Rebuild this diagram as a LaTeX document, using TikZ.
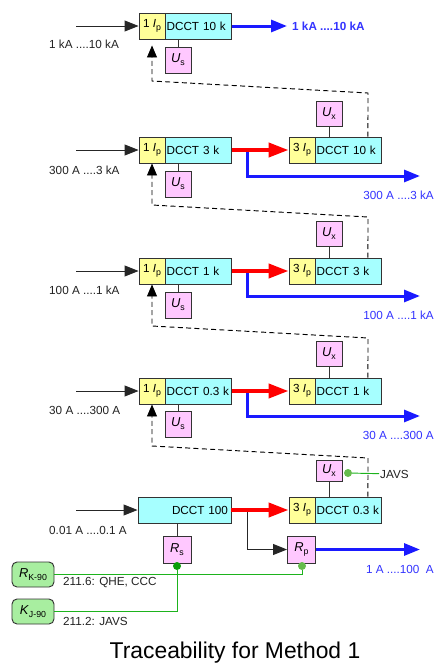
\documentclass[tikz,border=0pt]{standalone}
\usepackage{fontspec}
\setmainfont{Liberation Sans}
\usetikzlibrary{arrows.meta}
\definecolor{ipyellow}{HTML}{FFFF99}
\definecolor{dccyan}{HTML}{A6FFFF}
\definecolor{refpink}{HTML}{FFC8FF}
\definecolor{refgreen}{HTML}{A8EEA0}
\definecolor{linegreen}{HTML}{1DB31D}
\definecolor{dotgreen}{HTML}{66BB4D}
\definecolor{darkdot}{HTML}{0A9E0A}
\definecolor{outblue}{HTML}{1A1AFF}
\definecolor{labblue}{HTML}{3333FF}
\definecolor{txtgray}{HTML}{222222}
\newcommand{\lowidx}[1]{\raisebox{-0.45ex}{\fontsize{7.5}{8}\selectfont #1}}
\tikzset{
  box/.style={draw=black!80, line width=0.8pt, inner sep=0pt, minimum height=7.8mm, font=\fontsize{10}{12}\selectfont},
  ipbox/.style={box, fill=ipyellow, minimum width=7.8mm},
  dcbox/.style={box, fill=dccyan, text width=19.4mm, inner xsep=0.2mm, align=left},
  usbox/.style={box, fill=refpink, minimum width=7.8mm, font=\fontsize{11}{12}\selectfont},
  rbox/.style={usbox, minimum width=8.4mm, minimum height=8.1mm},
  kbox/.style={box, fill=refgreen, rounded corners=1.5mm, minimum width=12.6mm, minimum height=7.5mm, font=\fontsize{11}{12}\selectfont},
  inlabel/.style={anchor=west, inner sep=0.3mm, text=txtgray, font=\fontsize{10}{12}\selectfont},
  outlabel/.style={anchor=west, inner sep=0.3mm, text=labblue, font=\fontsize{10}{12}\selectfont},
  inarrow/.style={-{Triangle[length=4.2mm,width=3.3mm]}, line width=0.8pt, draw=black!85},
  redarrow/.style={-{Triangle[length=6mm,width=4.2mm]}, line width=1.2mm, red},
  bluearrow/.style={-{Triangle[length=4.8mm,width=3.6mm]}, line width=0.9mm, outblue},
  dasharrow/.style={-{Triangle[length=3.6mm,width=3mm]}, line width=0.8pt, dash pattern=on 1.5mm off 1mm},
  greenline/.style={line width=0.8pt, linegreen},
  gdot/.style={circle, inner sep=0pt, minimum size=2.4mm, fill=#1},
}
\begin{document}
\begin{tikzpicture}[x=0.3mm, y=-0.3mm]
\useasboundingbox (0,0) rectangle (435,666);

\node[ipbox] (ip1) at (152,26) {1~\textit{I}\lowidx{p}};
\node[dcbox, anchor=west] (dc1) at (ip1.east) {DCCT 10 k};
\node[usbox] (us1) at (178,60) {\textit{U}\lowidx{s}};
\coordinate (in1) at (76,26);
\coordinate (out1) at (287,26);
\node[inlabel] (inl1) at (48,44) {1 kA ....10 kA};
\node[outlabel, font=\fontsize{10}{12}\selectfont\bfseries] (outl1) at (291,26) {1 kA ....10 kA};

\node[ipbox] (ip2) at (152,150) {1~\textit{I}\lowidx{p}};
\node[dcbox, anchor=west] (dc2) at (ip2.east) {DCCT 3 k};
\node[usbox] (us2) at (178,184) {\textit{U}\lowidx{s}};
\node[ipbox] (ipr2) at (302,150) {3~\textit{I}\lowidx{p}};
\node[dcbox, anchor=west] (dcr2) at (ipr2.east) {DCCT 10 k};
\node[usbox, minimum height=7.5mm] (ux2) at (329,114) {\textit{U}\lowidx{x}};
\coordinate (in2) at (76,150);
\coordinate (tap2) at (247,150);
\coordinate (out2) at (420,176);
\node[inlabel] (inl2) at (48,170) {300 A ....3 kA};
\node[outlabel, anchor=east] (outl2) at (435,195) {300 A ....3 kA};

\node[ipbox] (ip3) at (152,271) {1~\textit{I}\lowidx{p}};
\node[dcbox, anchor=west] (dc3) at (ip3.east) {DCCT 1 k};
\node[usbox] (us3) at (178,305) {\textit{U}\lowidx{s}};
\node[ipbox] (ipr3) at (302,271) {3~\textit{I}\lowidx{p}};
\node[dcbox, anchor=west] (dcr3) at (ipr3.east) {DCCT 3 k};
\node[usbox, minimum height=7.5mm] (ux3) at (329,234) {\textit{U}\lowidx{x}};
\coordinate (in3) at (76,271);
\coordinate (tap3) at (247,271);
\coordinate (out3) at (420,296);
\node[inlabel] (inl3) at (48,290) {100 A ....1 kA};
\node[outlabel, anchor=east] (outl3) at (435,315) {100 A ....1 kA};

\node[ipbox] (ip4) at (152,391) {1~\textit{I}\lowidx{p}};
\node[dcbox, anchor=west] (dc4) at (ip4.east) {DCCT 0.3 k};
\node[usbox] (us4) at (178,424) {\textit{U}\lowidx{s}};
\node[ipbox] (ipr4) at (302,391) {3~\textit{I}\lowidx{p}};
\node[dcbox, anchor=west] (dcr4) at (ipr4.east) {DCCT 1 k};
\node[usbox, minimum height=7.5mm] (ux4) at (329,354) {\textit{U}\lowidx{x}};
\coordinate (in4) at (76,391);
\coordinate (tap4) at (247,391);
\coordinate (out4) at (420,416);
\node[inlabel] (inl4) at (48,410) {30 A ....300 A};
\node[outlabel, anchor=east] (outl4) at (435,435) {30 A ....300 A};

\node[dcbox, text width=26.1mm, inner xsep=0.9mm, align=right] (dc5) at (184.5,510) {DCCT 100};
\node[rbox] (rs) at (177,549.5) {\textit{R}\lowidx{s}};
\node[ipbox] (ipr5) at (302,510) {3~\textit{I}\lowidx{p}};
\node[dcbox, anchor=west] (dcr5) at (ipr5.east) {DCCT 0.3 k};
\node[usbox, minimum height=6.3mm] (ux5) at (329,470.5) {\textit{U}\lowidx{x}};
\node[rbox] (rp) at (301.5,549.5) {\textit{R}\lowidx{p}};
\coordinate (in5) at (76,510);
\coordinate (tap5) at (247,510);
\coordinate (out5) at (420,549.5);
\node[inlabel] (inl5) at (48,530) {0.01 A ....0.1 A};
\node[outlabel, anchor=east] (outl5) at (435,569) {1 A ....100~~A};
\node[inlabel] (javs) at (379,474) {JAVS};

\node[kbox] (rk) at (33,574.5) {\textit{R}\lowidx{K-90}};
\node[kbox] (kj) at (33,611.5) {\textit{K}\lowidx{J-90}};
\node[inlabel] (qhe) at (62,583) {211.6: QHE, CCC};
\node[inlabel] (jvs) at (62,621) {211.2: JAVS};

\node[font=\fontsize{19.5}{22}\selectfont] (title) at (235,653) {Traceability for Method 1};

\draw[inarrow] (in1) -- (ip1);
\draw[inarrow] (in2) -- (ip2);
\draw[inarrow] (in3) -- (ip3);
\draw[inarrow] (in4) -- (ip4);
\draw[inarrow] (in5) -- (dc5);

\draw[bluearrow] (dc1) -- (out1);
\draw[bluearrow] (tap2) |- (out2);
\draw[bluearrow] (tap3) |- (out3);
\draw[bluearrow] (tap4) |- (out4);
\draw[bluearrow] (rp) -- (out5);
\draw[inarrow] (tap5) |- (rp);
\draw[redarrow] (dc2) -- (ipr2);
\draw[redarrow] (dc3) -- (ipr3);
\draw[redarrow] (dc4) -- (ipr4);
\draw[redarrow] (dc5) -- (ipr5);

\draw[line width=0.8pt, black!80] (us1.north) -- (us1.north |- dc1.south);
\draw[line width=0.8pt, black!80] (us2.north) -- (us2.north |- dc2.south);
\draw[line width=0.8pt, black!80] (us3.north) -- (us3.north |- dc3.south);
\draw[line width=0.8pt, black!80] (us4.north) -- (us4.north |- dc4.south);
\draw[line width=0.8pt, black!80] (rs.north) -- (rs.north |- dc5.south);
\draw[line width=0.8pt, black!80] (ux2.south) -- (ux2.south |- dcr2.north);
\draw[line width=0.8pt, black!80] (ux3.south) -- (ux3.south |- dcr3.north);
\draw[line width=0.8pt, black!80] (ux4.south) -- (ux4.south |- dcr4.north);
\draw[line width=0.8pt, black!80] (ux5.south) -- (ux5.south |- dcr5.north);

\draw[dasharrow, shorten >=1.8mm] ([xshift=5.7mm]dcr2.north) -- (368,93) -- (152,81) -- (ip1);
\draw[dasharrow] ([xshift=5.7mm]dcr3.north) -- (368,217) -- (152,205) -- (ip2);
\draw[dasharrow] ([xshift=5.7mm]dcr4.north) -- (368,338) -- (152,326) -- (ip3);
\draw[dasharrow] ([xshift=5.7mm]dcr5.north) -- (368,458) -- (152,446) -- (ip4);

\node[gdot=dotgreen] (dotx) at (348,473) {};
\node[gdot=darkdot] (dots) at (177,566) {};
\node[gdot=dotgreen] (dotp) at (302,566) {};
\draw[greenline] (dotx) -- (javs);
\draw[greenline] (rk.east) -| (dotp);
\draw[greenline] (kj.east) -| (dots);
\end{tikzpicture}
\end{document}
